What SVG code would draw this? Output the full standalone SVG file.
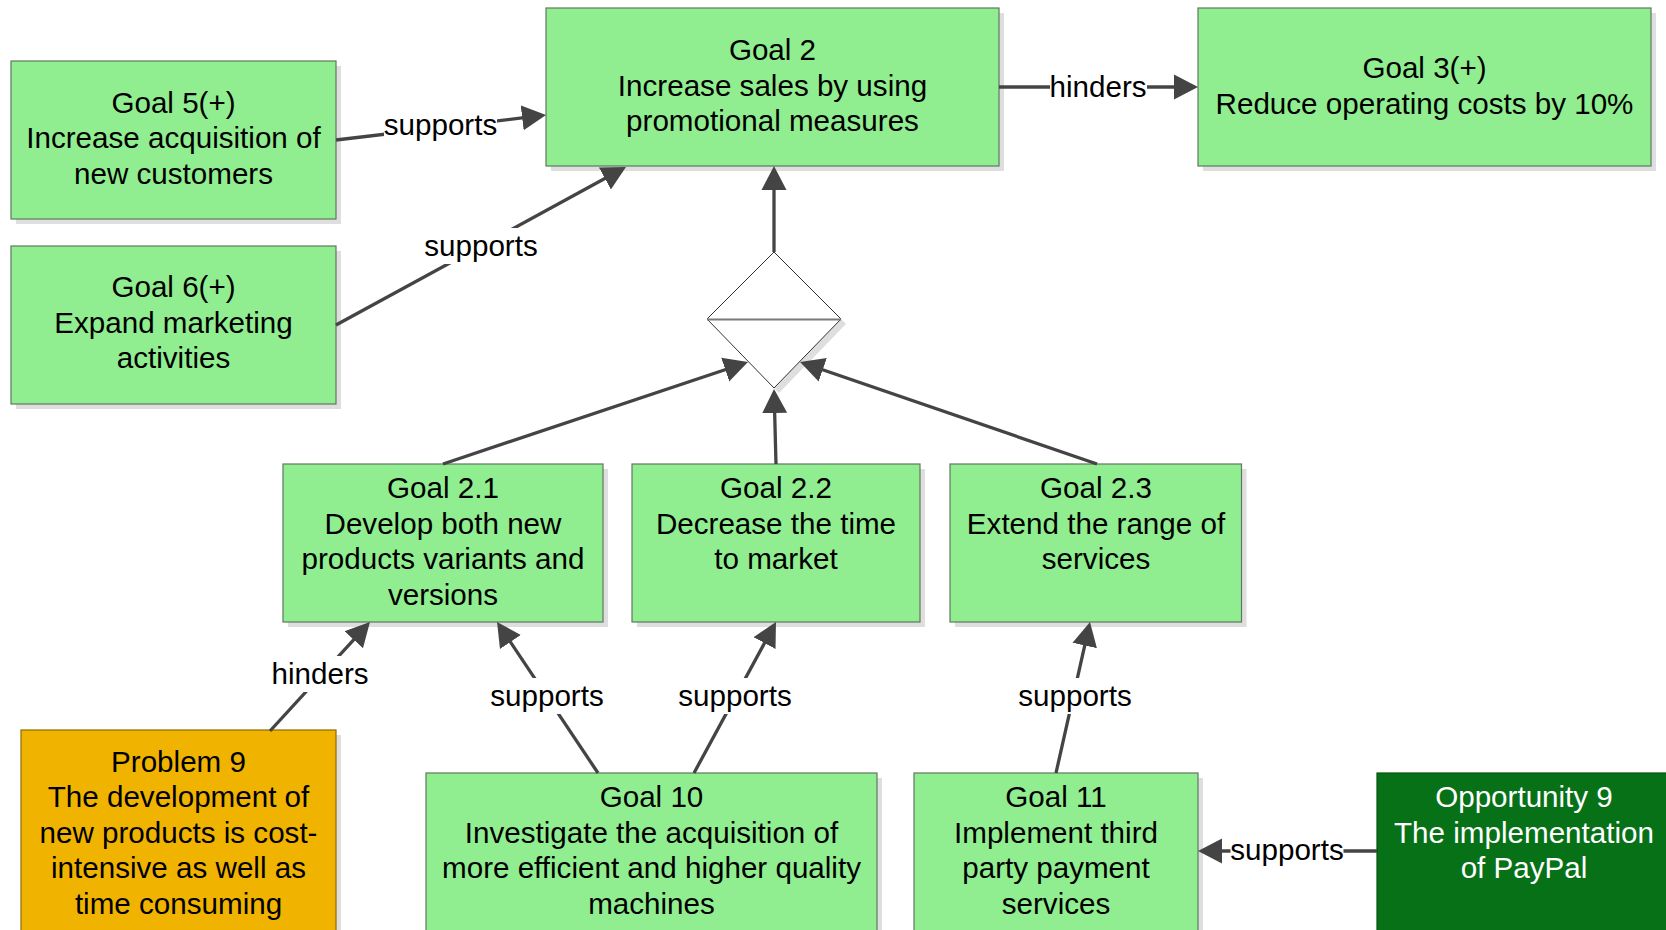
<svg xmlns="http://www.w3.org/2000/svg" width="1666" height="930" viewBox="0 0 1666 930">
  <defs>
    <marker id="arrow" markerUnits="userSpaceOnUse" markerWidth="26" markerHeight="28" viewBox="0 -14 26 28" refX="14" refY="0" orient="auto">
      <path d="M0,-12.5 L24,0 L0,12.5 Z" fill="#444444"/>
    </marker>
  </defs>
  <style>
    text { font-family: "Liberation Sans", Arial, sans-serif; font-size: 29.6px; text-anchor: middle; fill: #000000; }
    .shadow { fill: #dedede; }
    .goal { fill: #90ee90; stroke: #5f775f; stroke-width: 1.2; }
    .problem { fill: #f0b400; stroke: #8a6d00; stroke-width: 1.2; }
    .opportunity { fill: #077118; stroke: #05520f; stroke-width: 1.2; }
    .opportunity-text { fill: #ffffff; }
    .edge { fill: none; stroke: #444444; stroke-width: 3.3; marker-end: url(#arrow); }
    .label-bg { fill: #ffffff; }
    .gate { fill: #ffffff; stroke: #333333; stroke-width: 1; }
    .gate-bar { stroke: #7a7a7a; stroke-width: 2; }
  </style>

  <!-- AND gate combining the sub-goals -->
  <g id="and-gate">
    <polygon class="shadow" points="779,257 846,324 779,393 712,324"/>
    <polygon class="gate" points="774,252 841,319 774,388 707,319"/>
    <line class="gate-bar" x1="707" y1="319.5" x2="841" y2="319.5"/>
  </g>

  <g id="goal-5">
    <rect class="shadow" x="16" y="66" width="325" height="158"/>
    <rect class="goal" x="11" y="61" width="325" height="158"/>
    <text x="173.5" y="112.5">Goal 5(+)</text>
    <text x="173.5" y="148">Increase acquisition of</text>
    <text x="173.5" y="183.5">new customers</text>
  </g>

  <g id="goal-6">
    <rect class="shadow" x="16" y="251" width="325" height="158"/>
    <rect class="goal" x="11" y="246" width="325" height="158"/>
    <text x="173.5" y="297">Goal 6(+)</text>
    <text x="173.5" y="332.5">Expand marketing</text>
    <text x="173.5" y="368">activities</text>
  </g>

  <g id="goal-2">
    <rect class="shadow" x="551" y="13" width="453" height="158"/>
    <rect class="goal" x="546" y="8" width="453" height="158"/>
    <text x="772.5" y="60">Goal 2</text>
    <text x="772.5" y="95.5">Increase sales by using</text>
    <text x="772.5" y="131">promotional measures</text>
  </g>

  <g id="goal-3">
    <rect class="shadow" x="1203" y="13" width="453" height="158"/>
    <rect class="goal" x="1198" y="8" width="453" height="158"/>
    <text x="1424.5" y="78">Goal 3(+)</text>
    <text x="1424.5" y="113.5">Reduce operating costs by 10%</text>
  </g>

  <g id="goal-2-1">
    <rect class="shadow" x="288" y="469" width="320" height="158"/>
    <rect class="goal" x="283" y="464" width="320" height="158"/>
    <text x="443" y="498">Goal 2.1</text>
    <text x="443" y="533.5">Develop both new</text>
    <text x="443" y="569">products variants and</text>
    <text x="443" y="604.5">versions</text>
  </g>

  <g id="goal-2-2">
    <rect class="shadow" x="637" y="469" width="288" height="158"/>
    <rect class="goal" x="632" y="464" width="288" height="158"/>
    <text x="776" y="498">Goal 2.2</text>
    <text x="776" y="533.5">Decrease the time</text>
    <text x="776" y="569">to market</text>
  </g>

  <g id="goal-2-3">
    <rect class="shadow" x="955" y="469" width="291.5" height="158"/>
    <rect class="goal" x="950" y="464" width="291.5" height="158"/>
    <text x="1096" y="498">Goal 2.3</text>
    <text x="1096" y="533.5">Extend the range of</text>
    <text x="1096" y="569">services</text>
  </g>

  <g id="problem-9">
    <rect class="shadow" x="26" y="735" width="315" height="220"/>
    <rect class="problem" x="21" y="730" width="315" height="220"/>
    <text x="178.5" y="771.5">Problem 9</text>
    <text x="178.5" y="807">The development of</text>
    <text x="178.5" y="842.5">new products is cost-</text>
    <text x="178.5" y="878">intensive as well as</text>
    <text x="178.5" y="913.5">time consuming</text>
  </g>

  <g id="goal-10">
    <rect class="shadow" x="431" y="778" width="451" height="200"/>
    <rect class="goal" x="426" y="773" width="451" height="200"/>
    <text x="651.5" y="807">Goal 10</text>
    <text x="651.5" y="842.5">Investigate the acquisition of</text>
    <text x="651.5" y="878">more efficient and higher quality</text>
    <text x="651.5" y="913.5">machines</text>
  </g>

  <g id="goal-11">
    <rect class="shadow" x="919" y="778" width="284" height="200"/>
    <rect class="goal" x="914" y="773" width="284" height="200"/>
    <text x="1056" y="807">Goal 11</text>
    <text x="1056" y="842.5">Implement third</text>
    <text x="1056" y="878">party payment</text>
    <text x="1056" y="913.5">services</text>
  </g>

  <g id="opportunity-9">
    <rect class="opportunity" x="1377" y="773" width="294" height="200"/>
    <text class="opportunity-text" x="1524" y="807">Opportunity 9</text>
    <text class="opportunity-text" x="1524" y="842.5">The implementation</text>
    <text class="opportunity-text" x="1524" y="878">of PayPal</text>
  </g>

  <!-- connectors, drawn over the node shadows -->
  <g id="connectors">
    <path class="edge" d="M336,140 L536.1,116.2"/>
    <path class="edge" d="M336,325 L617.2,171.8"/>
    <path class="edge" d="M999,87 L1188,87"/>
    <path class="edge" d="M774,252 L774,176"/>
    <path class="edge" d="M443,464 L738.5,365.2"/>
    <path class="edge" d="M776,464 L774.3,399"/>
    <path class="edge" d="M1097,464 L809.5,365.2"/>
    <path class="edge" d="M270,731 L363.2,629.4"/>
    <path class="edge" d="M598,773 L502.6,630.3"/>
    <path class="edge" d="M694,773 L771.2,630.8"/>
    <path class="edge" d="M1056,773 L1087.8,631.8"/>
    <path class="edge" d="M1377,851 L1208,851"/>

    <!-- connector labels -->
    <g id="label-g5-g2"><rect class="label-bg" x="384" y="107" width="113" height="36"/><text x="440.5" y="135">supports</text></g>
    <g id="label-g6-g2"><rect class="label-bg" x="424" y="228" width="113" height="36"/><text x="481" y="256">supports</text></g>
    <g id="label-g2-g3"><rect class="label-bg" x="1050" y="68" width="97" height="36"/><text x="1098" y="96.5">hinders</text></g>
    <g id="label-p9-g21"><rect class="label-bg" x="272" y="656" width="97" height="36"/><text x="320" y="684.3">hinders</text></g>
    <g id="label-g10-g21"><rect class="label-bg" x="490.5" y="678" width="113" height="36"/><text x="547" y="706">supports</text></g>
    <g id="label-g10-g22"><rect class="label-bg" x="678.5" y="678" width="113" height="36"/><text x="735" y="706">supports</text></g>
    <g id="label-g11-g23"><rect class="label-bg" x="1018.5" y="678" width="113" height="36"/><text x="1075" y="706">supports</text></g>
    <g id="label-o9-g11"><rect class="label-bg" x="1230.5" y="832" width="113" height="36"/><text x="1287" y="860">supports</text></g>
  </g>
</svg>
